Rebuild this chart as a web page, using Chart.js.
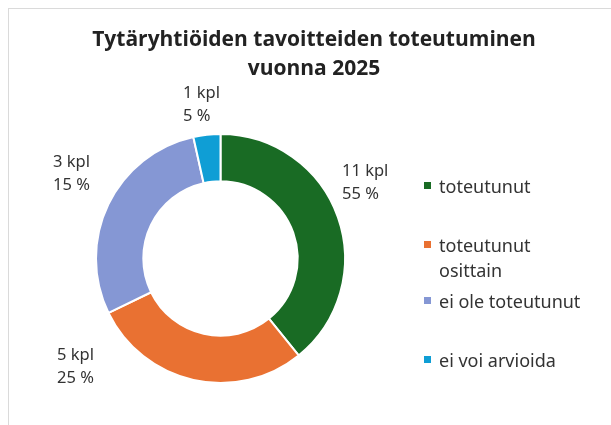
<!DOCTYPE html>
<html>
<head>
<meta charset="utf-8">
<script src="https://cdn.jsdelivr.net/npm/chart.js@4/dist/chart.umd.min.js"></script>
<style>
  html, body { margin: 0; padding: 0; background: #fff; }
  #wrap { position: relative; width: 611px; height: 425px; overflow: hidden; }
  #frame { position: absolute; left: 8px; top: 8px; width: 700px; height: 500px;
           border-top: 1px solid #dadada; border-left: 1px solid #dadada; }
  canvas { position: absolute; left: 0; top: 0; }
</style>
</head>
<body>
<div id="wrap">
  <div id="frame"></div>
  <canvas id="chart" width="611" height="425"></canvas>
</div>
<script>
const categories = ["toteutunut", "toteutunut osittain", "ei ole toteutunut", "ei voi arvioida"];
const legendLines = [["toteutunut"], ["toteutunut", "osittain"], ["ei ole toteutunut"], ["ei voi arvioida"]];
const counts = [11, 5, 3, 1];
const percents = [55, 25, 15, 5];
// slice sizes as drawn in the picture (share of the ring)
const sliceShares = [39.2, 28.6, 28.7, 3.5];
const colors = ["#196b24", "#e97132", "#8597d4", "#0f9ed5"];
const titleLines = ["Tytäryhtiöiden tavoitteiden toteutuminen", "vuonna 2025"];

const labelPos = [[342, 176], [57, 360], [53, 167], [183, 98]];
const legendY = [193, 252, 308, 367];

const overlay = {
  id: "overlay",
  afterDraw(chart) {
    const ctx = chart.ctx;
    ctx.save();
    // title
    ctx.fillStyle = "#222";
    ctx.font = "bold 21px 'Open Sans'";
    ctx.textAlign = "center";
    ctx.textBaseline = "alphabetic";
    ctx.fillText(titleLines[0], 314, 46);
    ctx.fillText(titleLines[1], 314, 75);

    // data labels
    ctx.textAlign = "left";
    ctx.fillStyle = "#333";
    ctx.font = "16.5px 'Noto Sans'";
    counts.forEach((c, i) => {
      const [x, y] = labelPos[i];
      ctx.fillText(c + " kpl", x, y);
      ctx.fillText(percents[i] + " %", x, y + 23);
    });

    // legend
    ctx.font = "18px 'Noto Sans'";
    legendLines.forEach((lines, i) => {
      const y = legendY[i];
      ctx.fillStyle = colors[i];
      ctx.fillRect(424, y - 11, 7, 7);
      ctx.fillStyle = "#333";
      lines.forEach((t, j) => ctx.fillText(t, 439, y + j * 25));
    });
    ctx.restore();
  }
};

new Chart(document.getElementById("chart"), {
  type: "doughnut",
  data: {
    labels: categories,
    datasets: [{
      data: sliceShares,
      backgroundColor: colors,
      borderColor: "#fff",
      borderWidth: 2,
      hoverOffset: 0,
      offset: 0
    }]
  },
  options: {
    responsive: false,
    animation: false,
    events: [],
    cutout: "62%",
    layout: { padding: { left: 95, top: 133, right: 265, bottom: 41 } },
    plugins: {
      legend: { display: false },
      title: { display: false },
      tooltip: { enabled: false }
    }
  },
  plugins: [overlay]
});
</script>
</body>
</html>
